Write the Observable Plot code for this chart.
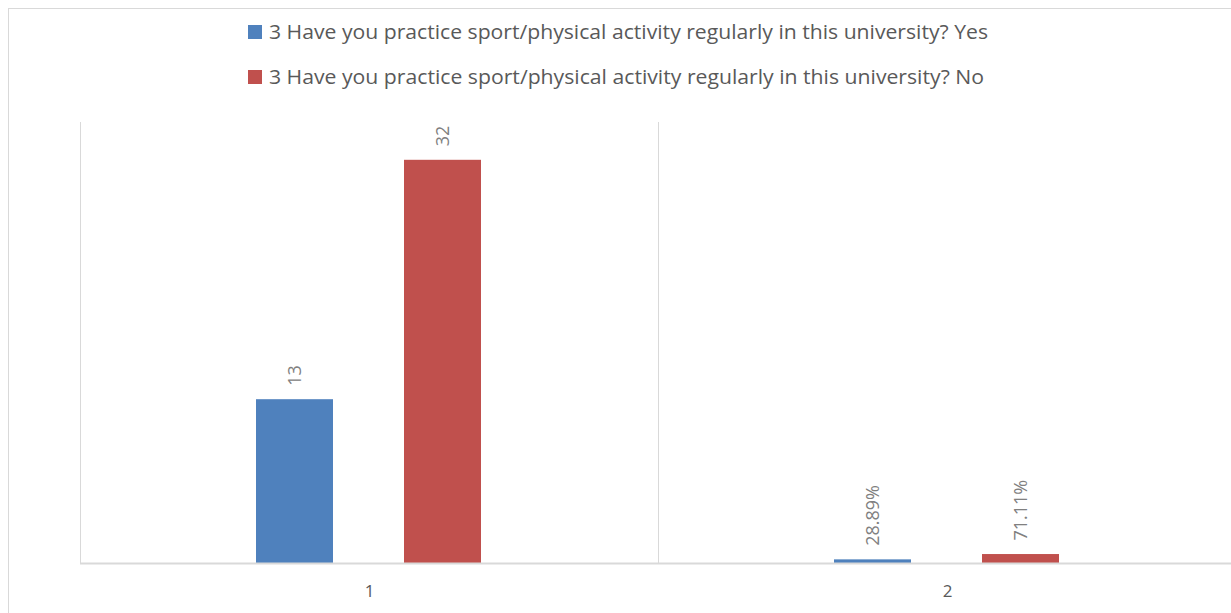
<!DOCTYPE html>
<html>
<head>
<meta charset="utf-8">
<script src="https://cdn.jsdelivr.net/npm/d3@7"></script>
<script src="https://cdn.jsdelivr.net/npm/@observablehq/plot@0.6"></script>
<style>
  html, body { margin: 0; padding: 0; background: #fff; overflow: hidden; }
  #wrap { position: relative; width: 1231px; height: 613px; overflow: hidden; }
  #box { position: absolute; left: 8px; top: 8px; width: 1240px; height: 620px; border: 1px solid #d9d9d9; box-sizing: border-box; }
  #legend { position: absolute; left: 248px; top: 0; font-family: "Open Sans", sans-serif; font-size: 20px; color: #595959; }
  .item { position: absolute; left: 0; white-space: nowrap; height: 20px; }
  .sw { position: absolute; left: 0; width: 14px; height: 14px; }
  .lbl { position: absolute; left: 21px; top: -7px; transform-origin: 0 50%; line-height: 28px; }
  #chart { position: absolute; left: 0; top: 0; }
</style>
</head>
<body>
<div id="wrap">
  <div id="box"></div>
  <div id="legend"></div>
  <div id="chart"></div>
</div>
<script>
const categories = ["1", "2"];
const seriesNames = [
  "3 Have you practice sport/physical activity regularly in this university? Yes",
  "3 Have you practice sport/physical activity regularly in this university? No"
];
const seriesKeys = ["Yes", "No"];
const yesValues = [13, 0.2889];
const noValues = [32, 0.7111];
const yesLabels = ["13", "28.89%"];
const noLabels = ["32", "71.11%"];
const colors = ["#4f81bd", "#c0504d"];

const data = [];
categories.forEach((c, i) => {
  data.push({cat: c, series: "Yes", value: yesValues[i], label: yesLabels[i]});
  data.push({cat: c, series: "No", value: noValues[i], label: noLabels[i]});
});

const legend = document.getElementById("legend");
const rowTops = [25, 70];
const lbls = [];
seriesNames.forEach((name, i) => {
  const d = document.createElement("div");
  d.className = "item";
  d.style.top = rowTops[i] + "px";
  d.innerHTML = `<span class="sw" style="background:${colors[i]}"></span><span class="lbl">${name}</span>`;
  legend.appendChild(d);
  lbls.push(d.querySelector(".lbl"));
});

const chart = Plot.plot({
  width: 1231,
  height: 613,
  marginTop: 122,
  marginBottom: 50,
  marginLeft: 80,
  marginRight: -5,
  style: {fontFamily: "Open Sans, sans-serif", background: "transparent"},
  fx: {domain: categories, padding: 0, label: null, axis: "bottom", tickSize: 0, tickPadding: 21},
  x: {domain: seriesKeys, paddingInner: 0.4765, paddingOuter: 1.178, axis: null},
  y: {domain: [0, 35], axis: null},
  color: {domain: seriesKeys, range: colors},
  marks: [
    Plot.frame({anchor: "left", stroke: "#d9d9d9", strokeWidth: 1}),
    Plot.barY(data, {fx: "cat", x: "series", y: "value", fill: "series"}),
    Plot.ruleY([0], {stroke: "#d9d9d9", strokeWidth: 2}),
    Plot.text(data, {fx: "cat", x: "series", y: "value", text: "label", rotate: -90, textAnchor: "start", lineAnchor: "middle", dy: -14, fill: "#808080", fontSize: 18})
  ]
});
chart.querySelectorAll("[aria-label='fx-axis tick label']").forEach(g => { g.setAttribute("font-size", "17"); g.setAttribute("fill", "#595959"); });
document.getElementById("chart").appendChild(chart);

// fit legend text widths to the reference (Calibri is narrower than available fonts)
lbls.forEach(l => {
  const w = l.getBoundingClientRect().width;
  const target = l.textContent.endsWith("Yes") ? 719 : 715;
  l.style.transform = `scaleX(${target / w})`;
});
</script>
</body>
</html>
